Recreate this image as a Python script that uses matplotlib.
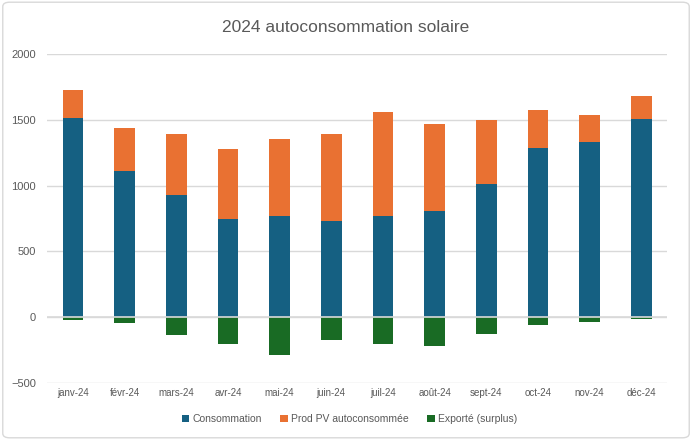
import matplotlib
matplotlib.use("Agg")
import matplotlib.pyplot as plt
from matplotlib.patches import FancyBboxPatch
import numpy as np

months = ["janv-24", "févr-24", "mars-24", "avr-24", "mai-24", "juin-24",
          "juil-24", "août-24", "sept-24", "oct-24", "nov-24", "déc-24"]
consommation = [1513, 1110, 926, 743, 766, 728, 766, 804, 1010, 1284, 1330, 1505]
prod_pv = [213, 327, 465, 534, 587, 663, 793, 663, 488, 290, 206, 176]
exporte = [-20, -48, -133, -205, -292, -173, -206, -222, -127, -58, -34, -16]

c_blue = "#156082"
c_orange = "#E97132"
c_green = "#196B24"
grid_c = "#D9D9D9"
txt_c = "#595959"

plt.rcParams['font.family'] = ['Liberation Sans', 'DejaVu Sans']

fig = plt.figure(figsize=(6.92, 4.40), dpi=100)
border = FancyBboxPatch((0.004, 0.005), 0.992, 0.99, boxstyle="round,pad=0,rounding_size=0.01",
                        transform=fig.transFigure, fill=False, edgecolor=grid_c, linewidth=1.0)
fig.patches.append(border)

ax = fig.add_axes([0.068, 0.130, 0.896, 0.747])
x = np.arange(len(months))
w = 0.4
ax.bar(x, consommation, w, color=c_blue, label="Consommation", zorder=2)
ax.bar(x, prod_pv, w, bottom=consommation, color=c_orange, label="Prod PV autoconsommée", zorder=2)
ax.bar(x, exporte, w, color=c_green, label="Exporté (surplus)", zorder=2)

ax.set_xlim(-0.5, 11.5)
ax.set_ylim(-500, 2000)
ax.set_yticks(range(-500, 2001, 500))
ax.yaxis.grid(True, color=grid_c, linewidth=1.0, zorder=1)
ax.axhline(0, color=grid_c, linewidth=1.2, zorder=3)
ax.set_axisbelow(True)
for s in ax.spines.values():
    s.set_visible(False)
ax.tick_params(axis='both', length=0, colors=txt_c)
ax.tick_params(axis='y', pad=8, labelsize=8)
ax.set_xticks(x)
ax.set_xticklabels(months, fontsize=7)

fig.text(0.5, 0.938, "2024 autoconsommation solaire", ha='center', va='center',
         fontsize=12.5, color=txt_c)

leg = fig.legend(loc='center', bbox_to_anchor=(0.505, 0.048), ncol=3, frameon=False,
                 fontsize=7.5, handlelength=0.7, handleheight=0.7, handletextpad=0.3,
                 columnspacing=1.8)
for t in leg.get_texts():
    t.set_color(txt_c)

fig.savefig("out.png", dpi=100)
